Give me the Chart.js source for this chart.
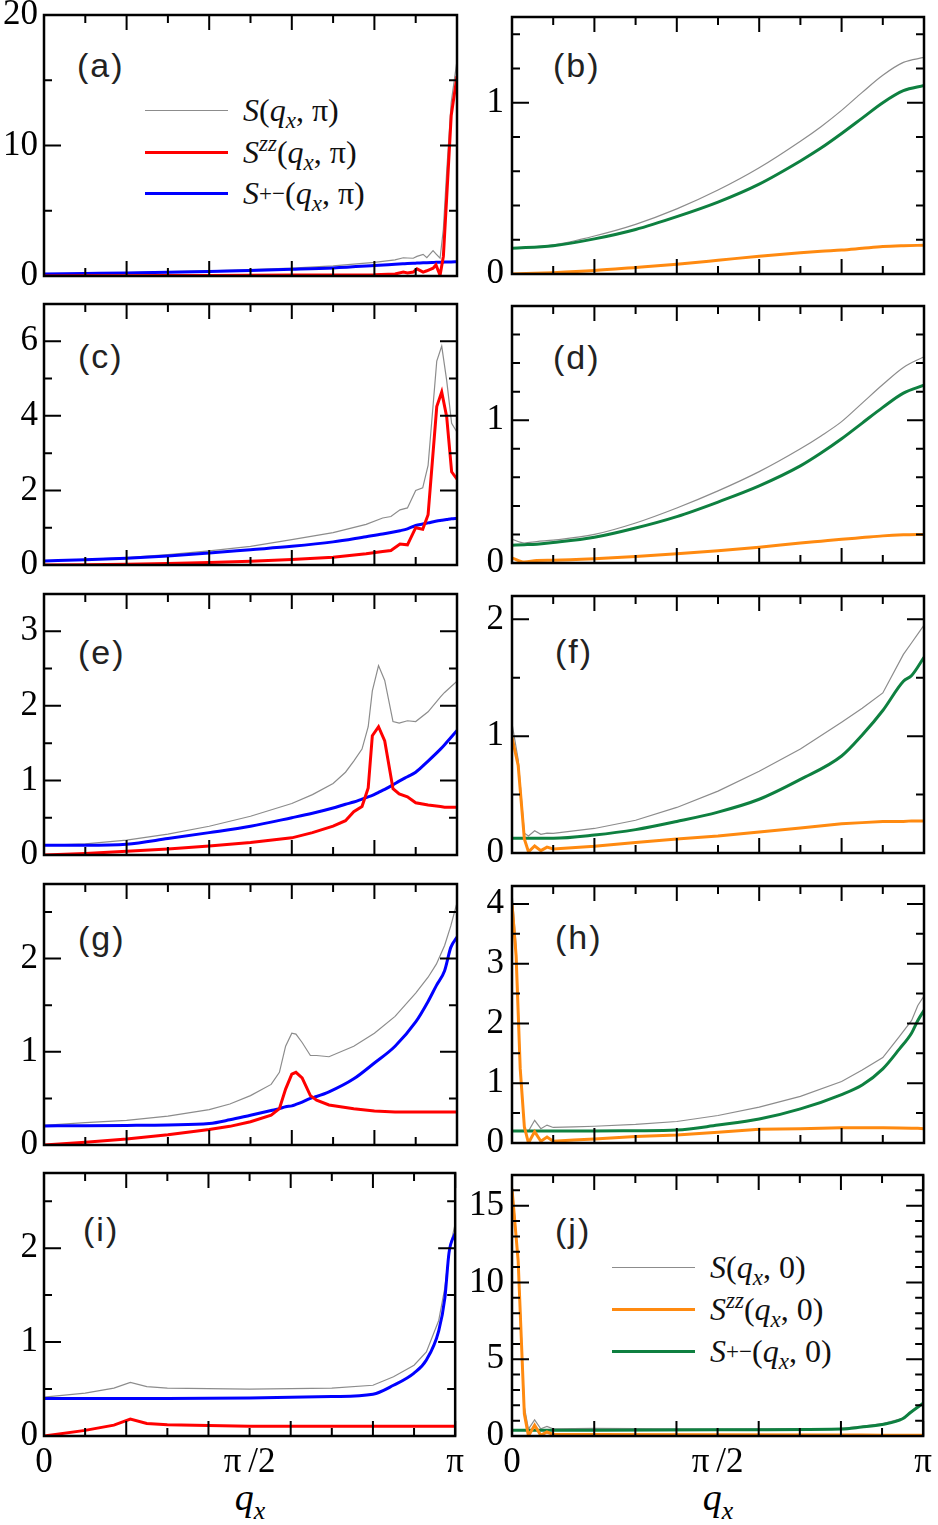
<!DOCTYPE html>
<html>
<head>
<meta charset="UTF-8">
<script src="https://cdn.jsdelivr.net/npm/chart.js"></script>
<style>
  body { margin: 0; width: 938px; height: 1525px; position: relative; background: #fff; overflow: hidden; }
  canvas { position: absolute; }
  .lab { position: absolute; font-family: "Liberation Sans", Arial, sans-serif; font-size: 34px; letter-spacing: 2px; line-height: 1; color: #222; }
  .leg { position: absolute; height: 40px; display: flex; align-items: center; font-family: "Liberation Serif", "Times New Roman", "DejaVu Serif", serif; font-size: 32px; color: #111; white-space: nowrap; }
  .leg .ln { display: inline-block; width: 83px; margin-right: 15px; }
  .leg sub, .leg sup { font-size: 0.72em; line-height: 0; }
  .qx { position: absolute; width: 120px; text-align: center; font-family: "Liberation Serif", "Times New Roman", serif; font-size: 38px; font-style: italic; line-height: 1; }
  .qx sub { font-size: 0.68em; line-height: 0; }
</style>
</head>
<body>

<div class="lab" style="left:77px; top:48px">(a)</div>
<div class="lab" style="left:553px; top:48px">(b)</div>
<div class="lab" style="left:78px; top:339px">(c)</div>
<div class="lab" style="left:553px; top:340px">(d)</div>
<div class="lab" style="left:78px; top:635px">(e)</div>
<div class="lab" style="left:555px; top:634px">(f)</div>
<div class="lab" style="left:78px; top:921px">(g)</div>
<div class="lab" style="left:555px; top:920px">(h)</div>
<div class="lab" style="left:83px; top:1212px">(i)</div>
<div class="lab" style="left:555px; top:1213px">(j)</div>

<div class="leg" style="left:145px; top:90px"><span class="ln" style="height:1px;background:#8c8c8c"></span><i>S</i>(<i>q<sub>x</sub></i>, π)</div>
<div class="leg" style="left:145px; top:132px"><span class="ln" style="height:3px;background:#ff0000"></span><i>S<sup>zz</sup></i>(<i>q<sub>x</sub></i>, π)</div>
<div class="leg" style="left:145px; top:173px"><span class="ln" style="height:3px;background:#0000ff"></span><i>S</i><sup>+−</sup>(<i>q<sub>x</sub></i>, π)</div>

<div class="leg" style="left:612px; top:1247px"><span class="ln" style="height:1px;background:#8c8c8c"></span><i>S</i>(<i>q<sub>x</sub></i>, 0)</div>
<div class="leg" style="left:612px; top:1289px"><span class="ln" style="height:3px;background:#ff8a10"></span><i>S<sup>zz</sup></i>(<i>q<sub>x</sub></i>, 0)</div>
<div class="leg" style="left:612px; top:1331px"><span class="ln" style="height:3px;background:#0e8040"></span><i>S</i><sup>+−</sup>(<i>q<sub>x</sub></i>, 0)</div>

<div class="qx" style="left:190px; top:1478px">q<sub>x</sub></div>
<div class="qx" style="left:658px; top:1478px">q<sub>x</sub></div>

<script>
// q_x in units of pi
const xTickVals = [0, 0.1, 0.2, 0.3, 0.4, 0.5, 0.6, 0.7, 0.8, 0.9, 1];
const xTickText = { 0: '0', 0.5: 'π\u2009/2', 1: 'π' };

// (a)
const qa  = [0, 0.1, 0.2, 0.3, 0.4, 0.5, 0.6, 0.7, 0.8, 0.85, 0.87, 0.88, 0.894, 0.903, 0.918, 0.927, 0.942, 0.949, 0.959, 0.967, 0.975, 0.986, 1];
const aS  = [0.15, 0.2, 0.26, 0.33, 0.4, 0.5, 0.6, 0.78, 1.05, 1.23, 1.4, 1.38, 1.36, 1.5, 1.66, 1.4, 1.94, 1.7, 1.36, 3.6, 8.0, 13.3, 16.5];
const aZZ = [0, 0.01, 0.02, 0.03, 0.04, 0.05, 0.07, 0.08, 0.1, 0.15, 0.3, 0.23, 0.3, 0.55, 0.3, 0.4, 0.6, 0.85, 0.05, 1.5, 6.0, 12.3, 15.3];
const aPM = [0.15, 0.19, 0.23, 0.28, 0.34, 0.42, 0.51, 0.62, 0.8, 0.9, 0.94, 0.96, 0.98, 0.99, 1.01, 1.02, 1.04, 1.05, 1.05, 1.06, 1.07, 1.08, 1.1];

// (b)
const qb  = [0, 0.1, 0.2, 0.3, 0.4, 0.5, 0.6, 0.7, 0.75, 0.8, 0.85, 0.9, 0.95, 1];
const bS  = [0.15, 0.17, 0.222, 0.29, 0.38, 0.49, 0.62, 0.775, 0.86, 0.955, 1.06, 1.16, 1.235, 1.264];
const bZZ = [0, 0.008, 0.02, 0.038, 0.057, 0.08, 0.104, 0.124, 0.133, 0.14, 0.15, 0.16, 0.165, 0.168];
const bPM = [0.15, 0.165, 0.205, 0.26, 0.335, 0.42, 0.525, 0.66, 0.735, 0.82, 0.91, 1.0, 1.07, 1.10];

// (c)
const qc  = [0, 0.1, 0.2, 0.3, 0.4, 0.5, 0.6, 0.7, 0.78, 0.82, 0.84, 0.862, 0.88, 0.9, 0.917, 0.93, 0.951, 0.963, 0.975, 0.987, 1];
const cS  = [0.1, 0.15, 0.2, 0.28, 0.38, 0.5, 0.68, 0.87, 1.09, 1.26, 1.3, 1.48, 1.53, 2.0, 2.07, 2.67, 5.47, 5.87, 4.95, 3.8, 3.56];
const cZZ = [0, 0.01, 0.02, 0.04, 0.07, 0.1, 0.15, 0.21, 0.3, 0.36, 0.39, 0.56, 0.54, 1.0, 0.96, 1.35, 4.25, 4.64, 3.98, 2.5, 2.3];
const cPM = [0.11, 0.14, 0.18, 0.24, 0.32, 0.41, 0.5, 0.62, 0.76, 0.83, 0.87, 0.92, 0.97, 1.06, 1.1, 1.13, 1.18, 1.2, 1.22, 1.24, 1.25];

// (d)
const qd  = [0, 0.03, 0.06, 0.1, 0.2, 0.3, 0.4, 0.5, 0.6, 0.7, 0.75, 0.8, 0.85, 0.9, 0.95, 1];
const dS  = [0.166, 0.14, 0.15, 0.16, 0.2, 0.28, 0.385, 0.505, 0.64, 0.8, 0.89, 0.99, 1.12, 1.25, 1.37, 1.445];
const dZZ = [0.036, 0.007, 0.018, 0.02, 0.03, 0.045, 0.064, 0.085, 0.11, 0.14, 0.153, 0.166, 0.178, 0.19, 0.197, 0.2];
const dPM = [0.125, 0.128, 0.132, 0.143, 0.18, 0.245, 0.325, 0.427, 0.54, 0.68, 0.77, 0.87, 0.98, 1.09, 1.19, 1.245];

// (e)
const qe  = [0, 0.1, 0.2, 0.3, 0.4, 0.5, 0.6, 0.65, 0.7, 0.73, 0.75, 0.77, 0.785, 0.795, 0.81, 0.825, 0.845, 0.86, 0.88, 0.9, 0.93, 0.96, 0.97, 1];
const eS  = [0.13, 0.15, 0.2, 0.28, 0.386, 0.52, 0.69, 0.81, 0.96, 1.11, 1.26, 1.42, 1.72, 2.2, 2.54, 2.34, 1.79, 1.77, 1.8, 1.79, 1.92, 2.12, 2.18, 2.33];
const eZZ = [0, 0.02, 0.05, 0.08, 0.12, 0.167, 0.23, 0.3, 0.386, 0.46, 0.58, 0.65, 0.9, 1.6, 1.72, 1.53, 0.89, 0.82, 0.78, 0.7, 0.67, 0.65, 0.64, 0.64];
const ePM = [0.13, 0.13, 0.145, 0.22, 0.3, 0.386, 0.5, 0.56, 0.63, 0.68, 0.71, 0.75, 0.78, 0.8, 0.84, 0.88, 0.94, 0.99, 1.05, 1.11, 1.26, 1.42, 1.48, 1.67];

// (f)
const qf  = [0, 0.015, 0.03, 0.04, 0.055, 0.07, 0.085, 0.1, 0.2, 0.3, 0.4, 0.5, 0.6, 0.7, 0.8, 0.85, 0.9, 0.95, 0.97, 1];
const fS  = [1.11, 0.8, 0.17, 0.146, 0.19, 0.16, 0.17, 0.168, 0.21, 0.28, 0.39, 0.53, 0.7, 0.89, 1.12, 1.24, 1.37, 1.7, 1.8, 1.95];
const fZZ = [0.99, 0.75, 0.12, 0.01, 0.06, 0.02, 0.05, 0.035, 0.058, 0.09, 0.12, 0.146, 0.18, 0.215, 0.25, 0.26, 0.27, 0.27, 0.275, 0.275];
const fPM = [0.127, 0.127, 0.127, 0.127, 0.127, 0.127, 0.127, 0.127, 0.154, 0.2, 0.27, 0.35, 0.46, 0.63, 0.83, 1.01, 1.22, 1.47, 1.52, 1.675];

// (g)
const qg  = [0, 0.1, 0.2, 0.3, 0.4, 0.45, 0.5, 0.55, 0.57, 0.585, 0.6, 0.61, 0.625, 0.645, 0.66, 0.69, 0.75, 0.8, 0.85, 0.9, 0.93, 0.95, 0.97, 0.985, 1];
const gS  = [0.212, 0.24, 0.265, 0.31, 0.38, 0.44, 0.53, 0.65, 0.78, 1.06, 1.2, 1.19, 1.1, 0.96, 0.96, 0.947, 1.06, 1.2, 1.38, 1.63, 1.8, 1.94, 2.14, 2.35, 2.6];
const gZZ = [0, 0.03, 0.064, 0.11, 0.166, 0.2, 0.25, 0.32, 0.39, 0.6, 0.76, 0.78, 0.72, 0.53, 0.48, 0.43, 0.39, 0.364, 0.355, 0.353, 0.353, 0.353, 0.353, 0.353, 0.353];
const gPM = [0.205, 0.207, 0.21, 0.215, 0.23, 0.27, 0.32, 0.37, 0.39, 0.41, 0.42, 0.435, 0.46, 0.5, 0.52, 0.57, 0.71, 0.88, 1.06, 1.32, 1.54, 1.71, 1.87, 2.12, 2.23];

// (h)
const qh  = [0, 0.01, 0.02, 0.03, 0.04, 0.055, 0.07, 0.085, 0.1, 0.15, 0.2, 0.3, 0.4, 0.5, 0.6, 0.7, 0.8, 0.85, 0.9, 0.94, 0.97, 0.985, 1];
const hS  = [4.2, 3.3, 1.3, 0.21, 0.2, 0.38, 0.24, 0.3, 0.26, 0.27, 0.28, 0.31, 0.36, 0.46, 0.6, 0.78, 1.03, 1.22, 1.43, 1.78, 2.05, 2.3, 2.46];
const hZZ = [4.0, 3.13, 1.24, 0.27, 0, 0.19, 0.03, 0.1, 0.03, 0.05, 0.065, 0.11, 0.135, 0.18, 0.23, 0.24, 0.254, 0.254, 0.254, 0.25, 0.245, 0.245, 0.24];
const hPM = [0.2, 0.2, 0.2, 0.2, 0.2, 0.2, 0.2, 0.2, 0.2, 0.2, 0.2, 0.205, 0.216, 0.3, 0.4, 0.57, 0.81, 0.97, 1.24, 1.57, 1.84, 2.05, 2.22];

// (i)
const qi  = [0, 0.1, 0.17, 0.21, 0.25, 0.3, 0.5, 0.7, 0.8, 0.85, 0.9, 0.93, 0.96, 0.975, 0.985, 1];
const iS  = [0.414, 0.456, 0.51, 0.57, 0.526, 0.51, 0.5, 0.51, 0.54, 0.63, 0.754, 0.895, 1.23, 1.58, 1.96, 2.26];
const iZZ = [0, 0.06, 0.116, 0.18, 0.133, 0.12, 0.105, 0.105, 0.105, 0.105, 0.105, 0.105, 0.105, 0.105, 0.105, 0.105];
const iPM = [0.4, 0.4, 0.4, 0.4, 0.4, 0.4, 0.405, 0.42, 0.445, 0.54, 0.67, 0.81, 1.12, 1.47, 1.95, 2.16];

// (j)
const qj  = [0, 0.015, 0.03, 0.04, 0.055, 0.07, 0.085, 0.1, 0.2, 0.5, 0.8, 0.85, 0.9, 0.95, 0.97, 1];
const jS  = [16.5, 11.6, 1.9, 0.45, 1.05, 0.47, 0.62, 0.47, 0.5, 0.45, 0.5, 0.63, 0.8, 1.15, 1.58, 2.15];
const jZZ = [16.1, 11.4, 1.44, 0, 0.7, 0.04, 0.26, 0.1, 0.1, 0.08, 0.06, 0.06, 0.05, 0.05, 0.05, 0.05];
const jPM = [0.37, 0.37, 0.37, 0.37, 0.37, 0.37, 0.37, 0.37, 0.38, 0.4, 0.45, 0.58, 0.75, 1.12, 1.55, 2.13];

const GRAY = '#8c8c8c', RED = '#ff0000', BLUE = '#0000ff', ORANGE = '#ff8a10', GREEN = '#0e8040';
const SERIF = '"Liberation Serif", "Times New Roman", "DejaVu Serif", serif';

const rowTop = [13, 302, 592, 882, 1171];
const plotH = 265;

function near(v, step) {
    const r = v / step;
    return Math.abs(r - Math.round(r)) < 1e-6;
}

// frame + inward ticks on all four sides
const framePlugin = {
    id: 'frame',
    afterDatasetsDraw(chart, args, opts) {
        const { ctx, chartArea: a, scales } = chart;
        ctx.save();
        ctx.strokeStyle = '#000';
        ctx.lineWidth = 2;
        ctx.beginPath();
        xTickVals.forEach(v => {
            const px = scales.x.getPixelForValue(v);
            const len = near(v, 0.2) ? 15 : 8;
            ctx.moveTo(px, a.top); ctx.lineTo(px, a.top + len);
            ctx.moveTo(px, a.bottom); ctx.lineTo(px, a.bottom - len);
        });
        opts.yt.forEach(v => {
            const py = scales.y.getPixelForValue(v);
            const len = near(v, opts.major) ? 17 : 8;
            ctx.moveTo(a.left, py); ctx.lineTo(a.left + len, py);
            ctx.moveTo(a.right, py); ctx.lineTo(a.right - len, py);
        });
        ctx.stroke();
        ctx.lineWidth = 2.5;
        ctx.strokeRect(a.left, a.top, a.right - a.left, a.bottom - a.top);
        ctx.restore();
    }
};

function series(xs, ys, color, width, smooth) {
    return {
        data: xs.map((x, i) => ({ x: x, y: ys[i] })),
        borderColor: color,
        borderWidth: width,
        pointRadius: 0,
        fill: false,
        tension: 0,
        cubicInterpolationMode: smooth ? 'monotone' : 'default'
    };
}

function makePanel(p) {
    const col = p.col === 0 ? { L: 44, R: 457, x0: 0, w: 470 } : { L: 512, R: 924, x0: 470, w: 468 };
    const bottomRow = p.row === 4;
    const padT = 25, padB = bottomRow ? 0 : 25, xh = bottomRow ? 48 : 0;
    const T = rowTop[p.row];

    const c = document.createElement('canvas');
    c.width = col.w;
    c.height = padT + plotH + padB + xh;
    c.style.left = col.x0 + 'px';
    c.style.top = (T - padT) + 'px';
    document.body.appendChild(c);

    const yt = [];
    for (let k = 0; k * p.step <= p.max + 1e-9; k++) yt.push(Math.round(k * p.step * 1000) / 1000);

    const hot = p.col === 0 ? RED : ORANGE;
    const cold = p.col === 0 ? BLUE : GREEN;

    new Chart(c, {
        type: 'line',
        data: {
            datasets: [
                series(p.q, p.zz, hot, 3, p.smooth),
                series(p.q, p.pm, cold, 3, true),
                series(p.q, p.s, GRAY, 1.2, p.smooth)
            ]
        },
        options: {
            responsive: false,
            animation: false,
            layout: { autoPadding: false, padding: { left: 0, right: col.x0 + col.w - col.R, top: padT, bottom: padB } },
            plugins: { legend: { display: false }, tooltip: { enabled: false }, frame: { yt: yt, major: p.major } },
            scales: {
                x: {
                    type: 'linear', min: 0, max: 1,
                    afterBuildTicks: s => { s.ticks = xTickVals.map(v => ({ value: v })); },
                    afterFit: s => { s.height = xh; },
                    grid: { display: false, drawTicks: false },
                    border: { display: false },
                    ticks: {
                        display: bottomRow, autoSkip: false, maxRotation: 0, padding: 6, color: '#000',
                        font: { family: SERIF, size: 35 },
                        callback: v => xTickText[v] !== undefined ? xTickText[v] : ''
                    }
                },
                y: {
                    type: 'linear', min: 0, max: p.max,
                    afterBuildTicks: s => { s.ticks = yt.map(v => ({ value: v })); },
                    afterFit: s => { s.width = col.L - col.x0; },
                    grid: { display: false, drawTicks: false },
                    border: { display: false },
                    ticks: {
                        autoSkip: false, padding: p.col === 0 ? 6 : 8, color: '#000',
                        font: { family: SERIF, size: 35 },
                        callback: v => near(v, p.major) ? String(Math.round(v * 100) / 100) : ''
                    }
                }
            }
        },
        plugins: [framePlugin]
    });
}

makePanel({ col: 0, row: 0, q: qa, s: aS, zz: aZZ, pm: aPM, max: 20, step: 5, major: 10 });
makePanel({ col: 1, row: 0, q: qb, s: bS, zz: bZZ, pm: bPM, max: 1.5, step: 0.2, major: 1, smooth: true });
makePanel({ col: 0, row: 1, q: qc, s: cS, zz: cZZ, pm: cPM, max: 7, step: 1, major: 2 });
makePanel({ col: 1, row: 1, q: qd, s: dS, zz: dZZ, pm: dPM, max: 1.8, step: 0.2, major: 1, smooth: true });
makePanel({ col: 0, row: 2, q: qe, s: eS, zz: eZZ, pm: ePM, max: 3.5, step: 0.5, major: 1 });
makePanel({ col: 1, row: 2, q: qf, s: fS, zz: fZZ, pm: fPM, max: 2.2, step: 0.5, major: 1 });
makePanel({ col: 0, row: 3, q: qg, s: gS, zz: gZZ, pm: gPM, max: 2.8, step: 0.5, major: 1 });
makePanel({ col: 1, row: 3, q: qh, s: hS, zz: hZZ, pm: hPM, max: 4.3, step: 0.5, major: 1 });
makePanel({ col: 0, row: 4, q: qi, s: iS, zz: iZZ, pm: iPM, max: 2.8, step: 0.5, major: 1 });
makePanel({ col: 1, row: 4, q: qj, s: jS, zz: jZZ, pm: jPM, max: 17, step: 1, major: 5 });
</script>
</body>
</html>
